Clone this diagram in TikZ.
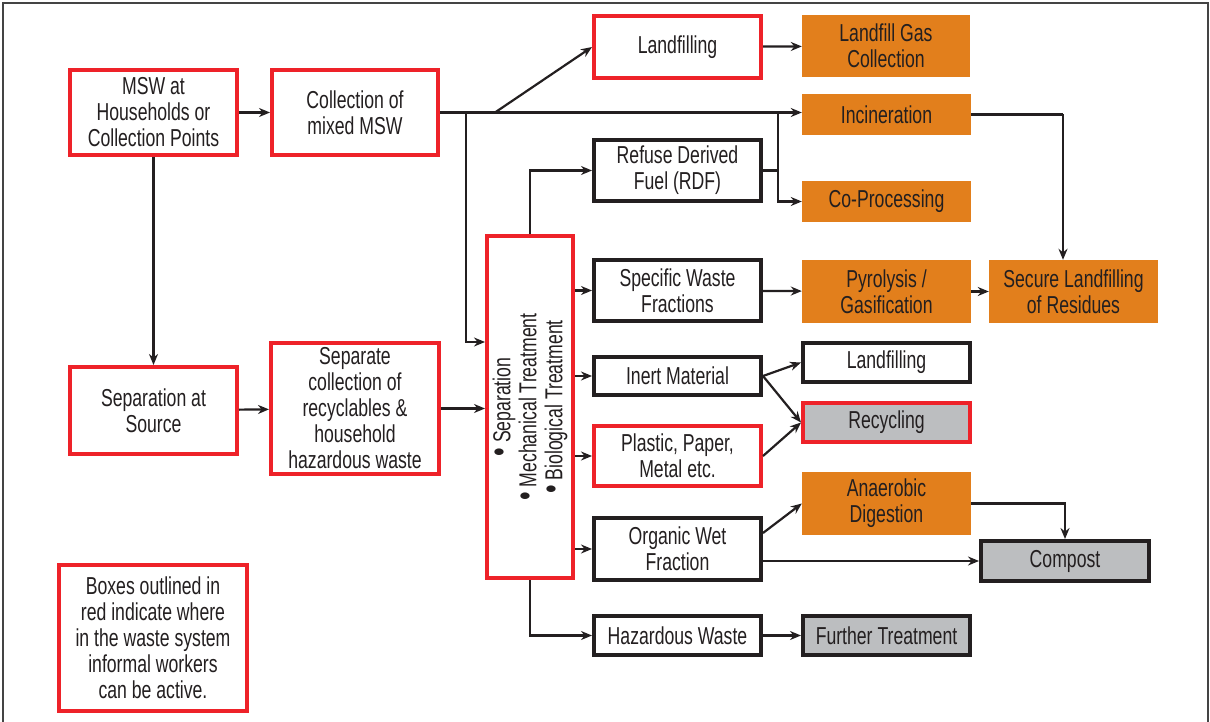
\documentclass[tikz,border=0pt]{standalone}
\usepackage{fontspec}
\setmainfont{Liberation Sans}[FakeStretch=0.72]
\usetikzlibrary{arrows.meta,calc}
\definecolor{redb}{HTML}{EE2229}
\definecolor{orangeb}{HTML}{E27F1C}
\definecolor{grayb}{HTML}{BCBEC0}
\definecolor{ink}{HTML}{231F20}
\definecolor{framec}{HTML}{444444}
\newcommand{\bigbul}{{\fontsize{34}{26}\selectfont\textbullet}}
\begin{document}
\begin{tikzpicture}[x=1pt,y=-1pt,
  every node/.style={font=\fontsize{24.5}{26}\selectfont, text=ink, align=center, inner sep=0pt},
  redbox/.style={draw=redb, line width=4pt, fill=white},
  blkbox/.style={draw=ink, line width=4pt, fill=white},
  orgbox/.style={fill=orangeb},
  graybox/.style={fill=grayb},
  conn/.style={draw=ink, line width=2.2pt},
  arr/.style={conn, -{Stealth[length=11pt,width=9pt]}}
]
\useasboundingbox (0,0) rectangle (1210,722);
\draw[framec, line width=2pt] (3,740) -- (3,3) -- (1208,3) -- (1208,740);

% boxes
\node[redbox, minimum width=167, minimum height=85] (msw) at (153.5,112.5) {MSW at\\Households or\\Collection Points};
\node[redbox, minimum width=166, minimum height=85] (coll) at (355,112.5) {Collection of\\mixed MSW};
\node[redbox, minimum width=167, minimum height=62] (lf1) at (677.5,47) {Landfilling};
\node[orgbox, minimum width=168, minimum height=62] (lgc) at (886,46) {Landfill Gas\\Collection};
\node[orgbox, minimum width=169, minimum height=41] (inc) at (886.5,114.5) {Incineration};
\node[orgbox, minimum width=169, minimum height=41] (cop) at (886.5,201.5) {Co-Processing};
\node[orgbox, minimum width=169, minimum height=63] (pyr) at (886.5,291.5) {Pyrolysis /\\Gasification};
\node[orgbox, minimum width=169, minimum height=63] (sec) at (1073.5,291.5) {Secure Landfilling\\of Residues};
\node[blkbox, minimum width=167, minimum height=61] (rdf) at (677.5,170.5) {Refuse Derived\\Fuel (RDF)};
\node[redbox, minimum width=86, minimum height=342] (sep) at (530,407) {};
\node[rotate=90, align=center] (septext) at (sep.center) {\bigbul\ Separation\\\bigbul\ Mechanical Treatment\\\bigbul\ Biological Treatment};
\node[blkbox, minimum width=167, minimum height=61] (swf) at (677.5,290.5) {Specific Waste\\Fractions};
\node[blkbox, minimum width=167, minimum height=38] (inert) at (677.5,376) {Inert Material};
\node[redbox, minimum width=167, minimum height=60] (plas) at (677.5,456) {Plastic, Paper,\\Metal etc.};
\node[blkbox, minimum width=167, minimum height=62] (org) at (677.5,549) {Organic Wet\\Fraction};
\node[blkbox, minimum width=167, minimum height=39] (haz) at (677.5,635.5) {Hazardous Waste};
\node[blkbox, minimum width=167, minimum height=39] (lf2) at (886.5,362.5) {Landfilling};
\node[redbox, graybox, minimum width=167, minimum height=39] (rec) at (886.5,422.5) {Recycling};
\node[orgbox, minimum width=169, minimum height=63] (ana) at (886.5,503.5) {Anaerobic\\Digestion};
\node[blkbox, graybox, minimum width=168, minimum height=40] (comp) at (1065,561) {Compost};
\node[blkbox, graybox, minimum width=167, minimum height=39] (fur) at (886.5,635.5) {Further Treatment};
\node[redbox, minimum width=167, minimum height=87] (sas) at (153.5,410.5) {Separation at\\Source};
\node[redbox, minimum width=168, minimum height=131] (scol) at (355,408.5) {Separate\\collection of\\recyclables \&\\household\\hazardous waste};
\node[redbox, minimum width=188, minimum height=146] (leg) at (153,638) {Boxes outlined in\\red indicate where\\in the waste system\\informal workers\\can be active.};

% helper coordinates
\coordinate (b1) at (495,112.5);
\coordinate (b2) at (466,112.5);
\coordinate (b2d) at (466,342);
\coordinate (j1) at (778,112.5);
\coordinate (k1) at (1063,114.5);

% connectors
\draw[arr] (msw) -- (coll);
\draw[arr] (msw) -- (sas);
\draw[arr] (sas) -- (scol);
\draw[arr] (scol.east) -- (scol.east -| sep.west);
\draw[arr] (coll.east) -- (coll.east -| inc.west);
\draw[arr] (b1) -- (lf1.west);
\draw[arr] (b2) -- (b2d) -- (b2d -| sep.west);
\draw[arr] (lf1) -- (lgc);
\draw[arr] (sep.north) |- (rdf.west);
\draw[conn] (rdf.east) -- (rdf.east -| j1);
\draw[arr] (j1) |- (cop.west);
\draw[conn] (inc.east) -- (k1);
\draw[arr] (k1) -- (k1 |- sec.north);
\draw[arr] (swf) -- (pyr);
\draw[arr] (pyr) -- (sec);
\draw[arr] (swf.west -| sep.east) -- (swf.west);
\draw[arr] (inert.west -| sep.east) -- (inert.west);
\draw[arr] (plas.west -| sep.east) -- (plas.west);
\draw[arr] (org.west -| sep.east) -- (org.west);
\draw[arr] (sep.south) |- (haz.west);
\draw[arr] (haz) -- (fur);
\draw[arr] (inert.east) -- (lf2.west);
\draw[arr] (inert.east) -- (rec.west);
\draw[arr] (plas.east) -- (rec.west);
\draw[arr] ($(org.east)+(0,-16)$) -- (ana.west);
\draw[arr] (org.east |- comp.west) -- (comp.west);
\draw[arr] (ana.east) -| (comp.north);
\end{tikzpicture}
\end{document}
